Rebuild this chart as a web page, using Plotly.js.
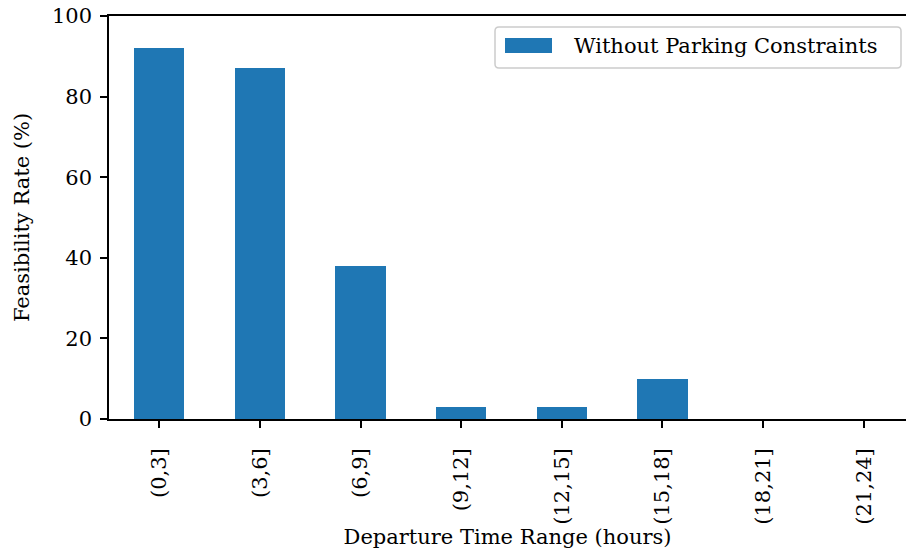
<!DOCTYPE html>
<html>
<head>
<meta charset="utf-8">
<script src="https://cdn.plot.ly/plotly-3.0.1.min.js"></script>
<style>html,body{margin:0;padding:0;background:#fff;}#chart{width:906px;height:553px;}</style>
</head>
<body>
<div id="chart"></div>
<script>
const categories = ["(0,3]", "(3,6]", "(6,9]", "(9,12]", "(12,15]", "(15,18]", "(18,21]", "(21,24]"];
const feasibility = [92, 87, 38, 3, 3, 10, 0, 0];
const seriesName = "Without Parking Constraints";
const yTicks = [0, 20, 40, 60, 80, 100];

const font = "DejaVu Serif, Liberation Serif, serif";
const fs = 21;
const xIdx = categories.map((c, i) => i);
const barColor = "#1f77b4";

// plot area in pixels (for legend placement in paper coordinates)
const L = 109, R = 906, T = 16, B = 419;
const px = v => (v - L) / (R - L);
const py = v => 1 - (v - T) / (B - T);

function roundRect(x0, y0, x1, y1, r) {
  const rx = r / (R - L), ry = r / (B - T);
  const a = px(x0), b = px(x1), c = py(y0), d = py(y1);
  return `M${a + rx},${c} L${b - rx},${c} Q${b},${c} ${b},${c - ry} L${b},${d + ry} Q${b},${d} ${b - rx},${d} L${a + rx},${d} Q${a},${d} ${a},${d + ry} L${a},${c - ry} Q${a},${c} ${a + rx},${c} Z`;
}

Plotly.newPlot("chart", [{
  type: "bar",
  x: xIdx,
  y: feasibility,
  width: 0.5,
  name: seriesName,
  marker: {color: barColor, line: {width: 0}},
  showlegend: false
}], {
  width: 906, height: 553,
  margin: {l: L, r: 906 - R, t: T, b: 553 - B},
  paper_bgcolor: "#fff", plot_bgcolor: "#fff",
  font: {family: font, size: fs, color: "#000"},
  bargap: 0,
  xaxis: {
    range: [-0.5, 7.42],
    tickmode: "array", tickvals: xIdx, ticktext: categories,
    tickangle: -90,
    ticks: "outside", ticklen: 7, tickwidth: 1.6, tickcolor: "#000",
    ticklabelstandoff: 12,
    showline: true, linecolor: "#000", linewidth: 1.6, mirror: true,
    showgrid: false, zeroline: false,
    tickfont: {family: font, size: fs},
    title: {text: "Departure Time Range (hours)", font: {family: font, size: fs}, standoff: 5}
  },
  yaxis: {
    range: [0, 100],
    tickmode: "array", tickvals: yTicks,
    ticks: "outside", ticklen: 7, tickwidth: 1.6, tickcolor: "#000",
    ticklabelstandoff: 4,
    showline: true, linecolor: "#000", linewidth: 1.6,
    showgrid: false, zeroline: false,
    tickfont: {family: font, size: fs},
    title: {text: "Feasibility Rate (%)", font: {family: font, size: fs}, standoff: 17}
  },
  showlegend: false,
  shapes: [
    {type: "path", xref: "paper", yref: "paper", path: roundRect(495, 27, 901, 68, 4),
     fillcolor: "rgba(255,255,255,0.8)", line: {color: "#cccccc", width: 1.5}},
    {type: "rect", xref: "paper", yref: "paper", x0: px(505), x1: px(552), y0: py(53), y1: py(38),
     fillcolor: barColor, line: {width: 0}}
  ],
  annotations: [
    {xref: "paper", yref: "paper", x: px(572), y: py(46), xanchor: "left", yanchor: "middle",
     text: seriesName, showarrow: false, font: {family: font, size: fs, color: "#000"}}
  ]
}, {displayModeBar: false});
</script>
</body>
</html>
